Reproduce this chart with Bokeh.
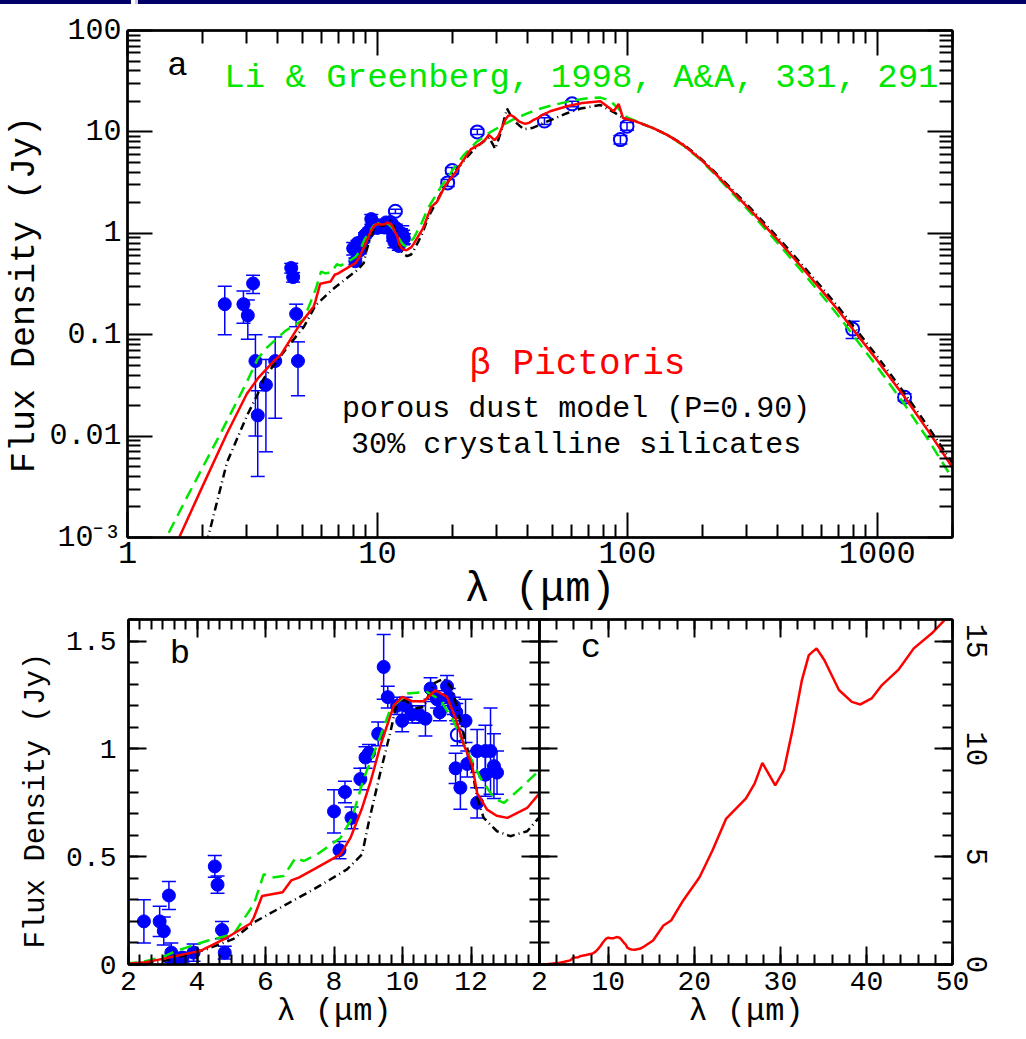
from bokeh.plotting import figure
from bokeh.models import (ColumnDataSource, FixedTicker, LogAxis, LinearAxis,
                          Whisker, TeeHead, Label, Range1d, Div)
from bokeh.layouts import column, row
from bokeh.embed import file_html
from bokeh.resources import INLINE

# ---------------------------------------------------------------------------
# Observations of beta Pictoris: wavelength (micron), flux density (Jy), error
# ---------------------------------------------------------------------------
# near-IR / L / M band photometry
phot_wave = [2.45, 2.91, 3.03, 3.18, 3.25, 3.32, 3.58, 3.90, 4.52, 4.60, 4.73, 4.81]
phot_flux = [0.20, 0.20, 0.155, 0.32, 0.055, 0.016, 0.032, 0.055, 0.455, 0.37, 0.16, 0.055]
phot_err = [0.10, 0.07, 0.065, 0.065, 0.045, 0.012, 0.025, 0.04, 0.05, 0.04, 0.04, 0.03]

# 8-13 micron spectrophotometry
spec_wave = [8.00, 8.16, 8.32, 8.51, 8.77, 8.92, 9.02, 9.29, 9.45, 9.57, 9.84, 9.99,
             10.09, 10.28, 10.48, 10.67, 10.82, 11.01, 11.09, 11.30, 11.35, 11.50,
             11.57, 11.84, 11.55, 11.69, 11.89, 12.18, 12.18, 12.42, 12.57, 12.42,
             12.67, 12.76]
spec_flux = [0.71, 0.53, 0.80, 0.68, 0.86, 0.96, 0.98, 1.07, 1.38, 1.24, 1.20, 1.13,
             1.20, 1.16, 1.16, 1.14, 1.28, 1.23, 1.17, 1.29, 1.24, 1.20,
             1.17, 1.13, 0.91, 0.82, 0.93, 0.75, 0.99, 0.99, 0.99, 0.88,
             0.92, 0.89]
spec_err = [0.10, 0.04, 0.05, 0.05, 0.05, 0.05, 0.04, 0.055, 0.15, 0.05, 0.04, 0.05,
            0.04, 0.04, 0.04, 0.08, 0.05, 0.04, 0.04, 0.05, 0.04, 0.04,
            0.04, 0.10, 0.07, 0.10, 0.06, 0.07, 0.10, 0.12, 0.20, 0.10,
            0.15, 0.10]

# IRAS / ISO / submm / mm fluxes (open symbols)
open_wave = [11.6, 11.8, 19.1, 19.9, 25.1, 46.6, 60.1, 93.8, 99.7, 797.0, 1286.0]
open_flux = [1.065, 1.65, 3.14, 4.16, 10.0, 12.8, 18.9, 8.4, 11.4, 0.1135, 0.0242]
open_err = [0.05, 0.08, 0.25, 0.3, 0.6, 1.0, 1.2, 0.8, 1.0, 0.022, 0.002]

# ---------------------------------------------------------------------------
# Model spectra (Jy)
# ---------------------------------------------------------------------------
# porous dust model, 30% crystalline silicates (red, solid)
red_wave = [1.45, 1.61, 1.96, 2.5, 3.0, 3.35, 3.85, 4.1, 4.88, 5.56, 5.66, 5.9, 6.5,
            6.75, 6.97, 7.41, 8.19, 8.48, 8.82, 9.07, 9.36, 9.75, 9.99, 10.28, 10.62,
            10.96, 11.3, 11.55, 11.79, 12.03, 12.18, 12.47, 12.75, 13.06, 13.64,
            13.98, 15.2, 16.4, 17.3, 18.7, 20.6, 22.1, 23.7, 26.0, 27.0, 27.9,
            29.4, 30.4, 31.4, 32.5, 33.3, 34.2, 35.1, 36.8, 38.3, 39.3, 40.6,
            41.8, 43.7, 45.5, 47.6, 49.1, 57.4, 66.0, 78.0, 88.2, 92.3, 96.1,
            106.0, 127.0, 145.0, 168.0, 193.0, 220.0, 250.0, 310.0, 400.0, 500.0,
            600.0, 700.0, 797.0, 1000.0, 1286.0, 1600.0, 2000.0]
red_flux = [0.00057, 0.001, 0.0029, 0.0106, 0.026, 0.038, 0.055, 0.063, 0.125, 0.19,
            0.218, 0.318, 0.335, 0.39, 0.403, 0.441, 0.511, 0.587, 0.726, 0.849,
            1.018, 1.203, 1.241, 1.221, 1.221, 1.272, 1.241, 1.141, 1.018, 0.926,
            0.795, 0.718, 0.69, 0.68, 0.726, 0.79, 1.11, 1.81, 2.04, 2.97, 4.05,
            5.29, 6.77, 7.7, 8.39, 9.35, 8.31, 9.01, 10.87, 13.19, 14.35, 14.66,
            14.12, 12.73, 12.18, 12.06, 12.34, 12.96, 13.66, 14.66, 15.36, 15.98,
            17.9, 19.3, 20.1, 16.0, 18.9, 13.7, 12.9, 10.9, 9.3, 7.4, 5.6, 4.1,
            2.95, 1.7, 0.86, 0.46, 0.272, 0.172, 0.114, 0.0558, 0.0243, 0.0112,
            0.0049]

# comparison model (green, dashed)
green_wave = [1.35, 1.43, 1.73, 2.35, 3.0, 3.32, 3.62, 4.3, 5.07, 5.66, 5.95, 6.2,
              6.53, 6.88, 7.12, 7.51, 8.19, 8.53, 8.87, 9.26, 9.65, 10.14, 10.72,
              11.11, 11.5, 11.89, 12.28, 12.67, 12.96, 13.45, 13.98, 15.0, 16.0,
              18.0, 20.0, 22.0, 25.0, 28.0, 30.0, 35.0, 40.0, 45.0, 50.0, 60.0,
              70.0, 78.0, 85.0, 92.0, 100.0, 110.0, 130.0, 145.0, 168.0, 193.0,
              220.0, 250.0, 310.0, 400.0, 500.0, 600.0, 700.0, 797.0, 1000.0,
              1286.0, 1600.0, 2000.0]
green_flux = [0.00076, 0.001, 0.0025, 0.0105, 0.034, 0.058, 0.075, 0.11, 0.141, 0.28,
              0.419, 0.403, 0.41, 0.495, 0.48, 0.511, 0.587, 0.68, 0.864, 1.018,
              1.187, 1.257, 1.264, 1.226, 1.126, 0.988, 0.864, 0.772, 0.749, 0.818,
              0.898, 1.25, 1.8, 2.9, 4.2, 5.8, 8.0, 9.8, 10.8, 13.3, 15.3, 17.0,
              18.3, 20.3, 21.6, 21.8, 20.5, 17.0, 13.8, 12.6, 10.6, 9.3, 7.3, 5.5,
              4.0, 2.85, 1.62, 0.8, 0.42, 0.245, 0.153, 0.1, 0.048, 0.0205, 0.0092,
              0.0038]

# comparison model (black, dash-dot)
black_wave = [2.0, 2.1, 2.5, 3.01, 3.32, 3.51, 4.3, 5.07, 5.66, 6.53, 7.41, 8.38,
              8.82, 9.02, 9.36, 9.65, 9.84, 10.09, 10.33, 10.62, 10.91, 11.21,
              11.45, 11.69, 11.99, 12.18, 12.37, 12.76, 13.15, 13.64, 13.98, 15.0,
              16.0, 18.0, 20.0, 22.0, 25.0, 28.0, 29.6, 31.0, 33.0, 35.0, 38.5,
              42.0, 46.0, 52.0, 57.0, 65.0, 78.0, 88.0, 95.0, 106.0, 127.0, 145.0,
              168.0, 193.0, 220.0, 250.0, 310.0, 400.0, 500.0, 600.0, 700.0, 797.0,
              1000.0, 1286.0, 1600.0, 2000.0]
black_flux = [0.0006, 0.001, 0.0055, 0.016, 0.026, 0.037, 0.072, 0.119, 0.195,
              0.272, 0.349, 0.441, 0.511, 0.664, 0.895, 1.08, 1.218, 1.226, 1.187,
              1.195, 1.303, 1.326, 1.28, 1.126, 0.941, 0.772, 0.68, 0.618, 0.595,
              0.618, 0.68, 0.95, 1.45, 2.5, 3.8, 5.1, 7.2, 8.8, 6.8, 9.5, 17.0,
              13.0, 10.6, 11.0, 12.2, 13.8, 15.2, 17.0, 18.4, 15.7, 14.0, 12.9,
              10.9, 9.3, 7.5, 5.7, 4.2, 3.05, 1.78, 0.91, 0.49, 0.292, 0.186, 0.124,
              0.061, 0.0265, 0.0123, 0.0054]

# tick labels
a_xtick_labels = {1: "1", 10: "10", 100: "100", 1000: "1000"}
a_ytick_labels = {0.001: "10\u207b\u00b3", 0.01: "0.01", 0.1: "0.1", 1: "1", 10: "10", 100: "100"}
b_ytick_labels = {0: "0", 0.5: "0.5", 1: "1", 1.5: "1.5"}

MONO = "Liberation Mono"
BLUE = "#0000ff"
RED = "#ff0000"
GREEN = "#00e600"


def style_axis(ax, major, minor, size="30px", labels=True, standoff=6):
    ax.axis_line_color = "black"
    ax.axis_line_width = 2.5
    ax.major_tick_line_color = "black"
    ax.minor_tick_line_color = "black"
    ax.major_tick_line_width = 2
    ax.minor_tick_line_width = 2
    ax.major_tick_in = major
    ax.major_tick_out = 0
    ax.minor_tick_in = minor
    ax.minor_tick_out = 0
    ax.major_label_text_font = MONO
    ax.major_label_text_color = "black"
    ax.axis_label_text_font = MONO
    ax.axis_label_text_font_style = "normal"
    ax.axis_label_text_color = "black"
    ax.major_label_text_font_size = size
    ax.major_label_standoff = standoff
    if not labels:
        # tick marks only on the opposite sides of each box
        ax.major_label_text_font_size = "2px"
        ax.major_label_text_color = None
        ax.major_label_standoff = 0


def add_errors(p, wave, flux, err):
    src = ColumnDataSource(dict(x=wave, lo=[f - e for f, e in zip(flux, err)],
                                hi=[f + e for f, e in zip(flux, err)]))
    head = dict(size=14, line_color=BLUE, line_width=1.5)
    p.add_layout(Whisker(source=src, base="x", lower="lo", upper="hi",
                         dimension="height", line_color=BLUE, line_width=1.5,
                         lower_head=TeeHead(**head), upper_head=TeeHead(**head)))


def add_observations(p, fmax=None):
    for w, f, e in ((phot_wave, phot_flux, phot_err), (spec_wave, spec_flux, spec_err)):
        add_errors(p, w, f, e)
        p.scatter(w, f, marker="circle", size=13, fill_color=BLUE, line_color=BLUE)
    keep = [i for i, f in enumerate(open_flux) if fmax is None or f < fmax]
    ow = [open_wave[i] for i in keep]
    of = [open_flux[i] for i in keep]
    oe = [open_err[i] for i in keep]
    add_errors(p, ow, of, oe)
    p.scatter(ow, of, marker="circle", size=13, fill_color=None,
              line_color=BLUE, line_width=2)


def add_models(p, show=("black", "green", "red")):
    if "black" in show:
        p.line(black_wave, black_flux, line_color="black", line_width=2.5,
               line_dash="8 4 1 4")
    if "green" in show:
        p.line(green_wave, green_flux, line_color=GREEN, line_width=2.5,
               line_dash="12 7")
    if "red" in show:
        p.line(red_wave, red_flux, line_color=RED, line_width=2.5)


def clean(p):
    p.xgrid.visible = False
    p.ygrid.visible = False
    p.outline_line_color = "black"
    p.outline_line_width = 2


# ---------------------------------------------------------------------------
# (a) full SED, log-log
# ---------------------------------------------------------------------------
log_xmajor = [1.0, 10.0, 100.0, 1000.0]
log_xminor = [m * 10.0 ** e for e in range(0, 4) for m in range(2, 10) if m * 10.0 ** e <= 2000]
log_ymajor = [10.0 ** e for e in range(-3, 3)]
log_yminor = [m * 10.0 ** e for e in range(-3, 2) for m in range(2, 10)]

pa = figure(width=1026, height=621, x_axis_type="log", y_axis_type="log",
            x_range=Range1d(1, 2000), y_range=Range1d(1e-3, 100),
            toolbar_location=None, output_backend="svg",
            min_border_left=127, min_border_right=74, min_border_top=26,
            min_border_bottom=88)
clean(pa)
pa.xaxis.ticker = FixedTicker(ticks=log_xmajor, minor_ticks=log_xminor)
pa.yaxis.ticker = FixedTicker(ticks=log_ymajor, minor_ticks=log_yminor)
style_axis(pa.xaxis[0], 25, 13, size="32px", standoff=4)
style_axis(pa.yaxis[0], 25, 13, size="30px", standoff=6)
pa.xaxis.major_label_overrides = a_xtick_labels
pa.yaxis.major_label_overrides = a_ytick_labels
pa.xaxis.axis_label = "\u03bb (\u03bcm)"
pa.xaxis.axis_label_text_font_size = "42px"
pa.xaxis.axis_label_standoff = 0
pa.yaxis.axis_label = "Flux Density  (Jy)"
pa.yaxis.axis_label_text_font_size = "35px"
pa.yaxis.axis_label_standoff = 1
top_a = LogAxis(ticker=FixedTicker(ticks=log_xmajor, minor_ticks=log_xminor))
style_axis(top_a, 25, 13, labels=False)
pa.add_layout(top_a, "above")
right_a = LogAxis(ticker=FixedTicker(ticks=log_ymajor, minor_ticks=log_yminor))
style_axis(right_a, 25, 13, labels=False)
pa.add_layout(right_a, "right")

add_observations(pa)
add_models(pa)

pa.add_layout(Label(x=1.585, y=44.5, text="a", text_font=MONO, text_font_size="34px",
                    text_align="center", text_baseline="middle", text_color="black"))
pa.add_layout(Label(x=2.44, y=33.9, text="Li & Greenberg, 1998, A&A, 331, 291",
                    text_font=MONO, text_font_size="34px", text_align="left",
                    text_baseline="alphabetic", text_color=GREEN))
pa.add_layout(Label(x=63.1, y=0.0506, text="\u03b2 Pictoris", text_font=MONO,
                    text_font_size="36px", text_align="center",
                    text_baseline="alphabetic", text_color=RED))
pa.add_layout(Label(x=62.4, y=0.01859, text="porous dust model (P=0.90)",
                    text_font=MONO, text_font_size="30px", text_align="center",
                    text_baseline="alphabetic", text_color="black"))
pa.add_layout(Label(x=62.4, y=0.0082, text="30% crystalline silicates",
                    text_font=MONO, text_font_size="30px", text_align="center",
                    text_baseline="alphabetic", text_color="black"))

# ---------------------------------------------------------------------------
# (b) silicate feature, linear
# ---------------------------------------------------------------------------
b_xmajor = [2, 4, 6, 8, 10, 12]
b_xminor = [2 + i / 3 for i in range(37)]
b_ymajor = [0, 0.5, 1, 1.5]
b_yminor = [i / 10 for i in range(17)]

pb = figure(width=551, height=424, x_range=Range1d(2, 14), y_range=Range1d(0, 1.6),
            toolbar_location=None, output_backend="svg",
            min_border_left=128, min_border_right=12, min_border_top=4,
            min_border_bottom=75, border_fill_color=None)
clean(pb)
pb.xaxis.ticker = FixedTicker(ticks=b_xmajor, minor_ticks=b_xminor)
pb.yaxis.ticker = FixedTicker(ticks=b_ymajor, minor_ticks=b_yminor)
style_axis(pb.xaxis[0], 18, 10, size="28px", standoff=7)
style_axis(pb.yaxis[0], 18, 10, size="28px", standoff=12)
pb.yaxis.major_label_overrides = b_ytick_labels
pb.xaxis.axis_label = "\u03bb (\u03bcm)"
pb.xaxis.axis_label_text_font_size = "32px"
pb.xaxis.axis_label_standoff = 0
pb.yaxis.axis_label = "Flux Density  (Jy)"
pb.yaxis.axis_label_text_font_size = "29px"
pb.yaxis.axis_label_standoff = 10
top_b = LinearAxis(ticker=FixedTicker(ticks=b_xmajor, minor_ticks=b_xminor))
style_axis(top_b, 18, 10, labels=False)
pb.add_layout(top_b, "above")
right_b = LinearAxis(ticker=FixedTicker(ticks=b_ymajor, minor_ticks=b_yminor))
style_axis(right_b, 18, 10, labels=False)
pb.add_layout(right_b, "right")

add_observations(pb, fmax=1.6)
add_models(pb)
pb.add_layout(Label(x=3.5, y=1.44, text="b", text_font=MONO, text_font_size="34px",
                    text_align="center", text_baseline="middle", text_color="black"))

# ---------------------------------------------------------------------------
# (c) model 2-50 micron, linear
# ---------------------------------------------------------------------------
c_xmajor = [2, 10, 20, 30, 40, 50]
c_xminor = list(range(2, 51, 2))
c_ymajor = [0, 5, 10, 15]
c_yminor = list(range(0, 17))

# panel (c) shares its left frame edge with the right edge of panel (b):
# a negative left margin pulls it over (b)'s transparent right border
pc = figure(width=499, height=424, x_range=Range1d(2, 50), y_range=Range1d(0, 16),
            toolbar_location=None, output_backend="svg", y_axis_location="right",
            min_border_left=12, min_border_right=74, min_border_top=4,
            min_border_bottom=75, border_fill_color=None,
            margin=(0, 0, 0, -24))
clean(pc)
pc.xaxis.ticker = FixedTicker(ticks=c_xmajor, minor_ticks=c_xminor)
pc.yaxis.ticker = FixedTicker(ticks=c_ymajor, minor_ticks=c_yminor)
style_axis(pc.xaxis[0], 18, 10, size="28px", standoff=7)
style_axis(pc.yaxis[0], 18, 10, size="29px", standoff=14)
pc.yaxis.major_label_orientation = "vertical"
pc.xaxis.axis_label = "\u03bb (\u03bcm)"
pc.xaxis.axis_label_text_font_size = "32px"
pc.xaxis.axis_label_standoff = 0
top_c = LinearAxis(ticker=FixedTicker(ticks=c_xmajor, minor_ticks=c_xminor))
style_axis(top_c, 18, 10, labels=False)
pc.add_layout(top_c, "above")
left_c = LinearAxis(ticker=FixedTicker(ticks=c_ymajor, minor_ticks=c_yminor))
style_axis(left_c, 18, 10, labels=False)
pc.add_layout(left_c, "left")

add_models(pc, show=("red",))
pc.add_layout(Label(x=7.99, y=14.7, text="c", text_font=MONO, text_font_size="34px",
                    text_align="center", text_baseline="middle", text_color="black"))

# ---------------------------------------------------------------------------
# page
# ---------------------------------------------------------------------------
bar = Div(text="", width=1026, height=4,
          styles={"background": "linear-gradient(to right, #000066 0px, #000066 131px, "
                                "#ffffff 131px, #ffffff 135px, #c8c8d8 135px, "
                                "#c8c8d8 138px, #000066 138px)",
                  "margin": "0", "padding": "0"})
bottom = row(pb, pc)
bottom.styles = {"margin-top": "-10px"}
layout = column(bar, pa, bottom)

open("out.html", "w").write(file_html(layout, INLINE))
